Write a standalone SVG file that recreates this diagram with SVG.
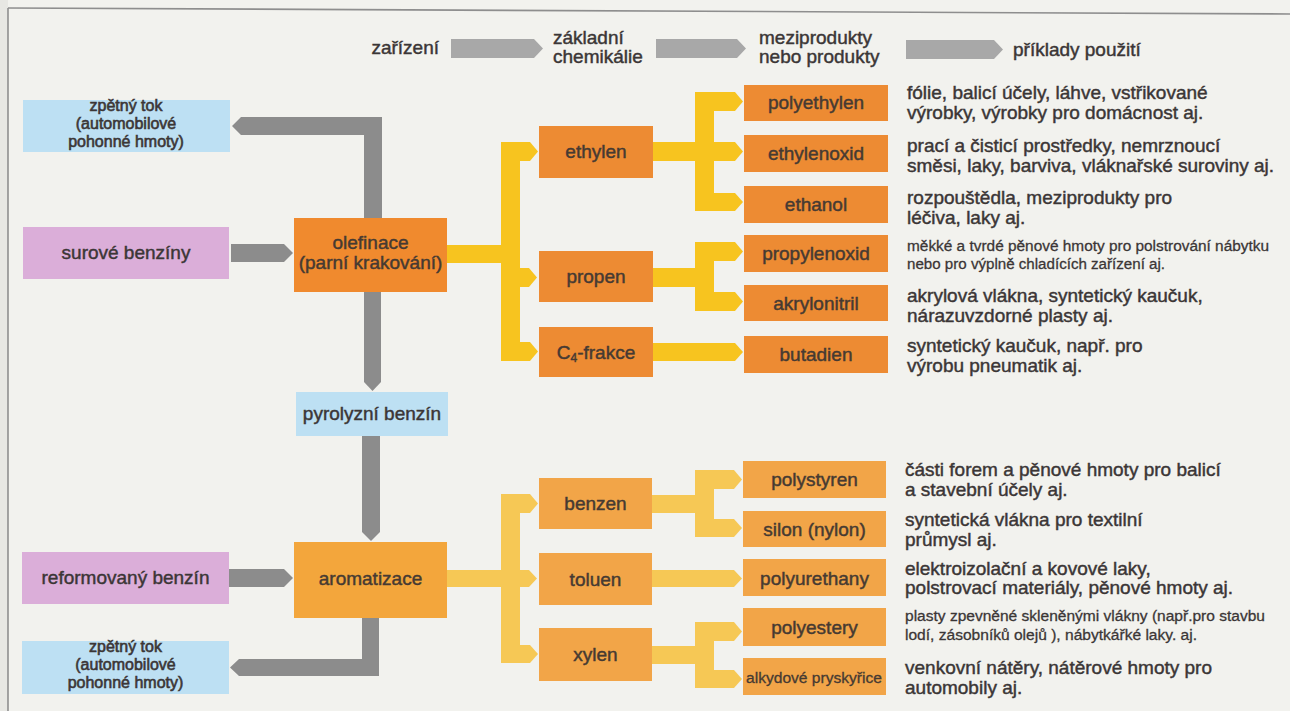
<svg xmlns="http://www.w3.org/2000/svg" width="1290" height="711" viewBox="0 0 1290 711">
<style>
.t{font-family:"Liberation Sans",Arial,Helvetica,sans-serif;font-size:19px;fill:#3b3636;stroke:#3b3636;stroke-width:0.45px}
.bt{fill:#463a32;stroke:#463a32}
.s16{font-size:16px;stroke-width:0.6px}
.sm{font-size:15.5px;stroke-width:0.3px}
.c{text-anchor:middle}
.e{text-anchor:end}
.blue{fill:#bde0f3}
.pink{fill:#dbaed9}
.or1{fill:#ed8b33}
.or2{fill:#f2a548}
.olef{fill:#f08a2e}
.arom{fill:#f3a63c}
.y1{fill:#f7c41f}
.y2{fill:#f6c855}
.g{fill:#8c8c8c}
.lg{fill:#a8a8a8}
</style>
<rect x="0" y="0" width="1290" height="711" fill="#f2f2ee"/>
<rect x="0" y="0" width="8" height="711" fill="#e7e7e3"/>
<g id="frame" fill="none" stroke="#8e8e8e" stroke-width="1.6">
<line x1="8" y1="8" x2="1290" y2="14"/>
<line x1="8" y1="8" x2="8" y2="711"/>
</g>

<g id="legend">
<text class="t e" x="439" y="54">zařízení</text>
<polygon class="lg" points="451,39 534,39 543,48.5 534,58 451,58"/>
<text class="t" x="553" y="44">základní</text>
<text class="t" x="553" y="63">chemikálie</text>
<polygon class="lg" points="656,39 737,39 746,48.5 737,58 656,58"/>
<text class="t" x="759" y="44">meziprodukty</text>
<text class="t" x="759" y="63">nebo produkty</text>
<polygon class="lg" points="906,40 994,40 1003,49.5 994,59 906,59"/>
<text class="t" x="1013" y="56">příklady použití</text>
</g>

<g id="connectors">
<polygon class="g" points="382,219 382,117 241,117 232,126 241,135 364,135 364,219"/>
<polygon class="g" points="231,244 284,244 293,253 284,262 231,262"/>
<polygon class="g" points="364,292 381,292 381,382 372.5,391 364,382"/>
<polygon class="g" points="362,436 380,436 380,532 371,541 362,532"/>
<polygon class="g" points="229,569 284,569 293,578 284,587 229,587"/>
<polygon class="g" points="362,618 379,618 379,676 239,676 230,667.5 239,659 362,659"/>
<g class="y1">
<rect x="447" y="245" width="60" height="18"/>
<rect x="501" y="142" width="19" height="219"/>
<polygon points="515,142 530,142 538,151.5 530,161 515,161"/>
<polygon points="515,268 529,268 537,277.5 529,287 515,287"/>
<polygon points="515,342 530,342 538,351.5 530,361 515,361"/>
<rect x="653" y="142" width="48" height="19"/>
<rect x="695" y="92" width="19" height="119"/>
<polygon points="710,92 735,92 743,101.5 735,111 710,111"/>
<polygon points="710,142 735,142 743,151.5 735,161 710,161"/>
<polygon points="710,193 735,193 743,202 735,211 710,211"/>
<rect x="653" y="268" width="48" height="19"/>
<rect x="695" y="242" width="19" height="69"/>
<polygon points="710,242 735,242 743,251.5 735,261 710,261"/>
<polygon points="710,292 735,292 743,301.5 735,311 710,311"/>
<polygon points="653,343 735,343 743,352 735,361 653,361"/>
</g>
<g class="y2">
<rect x="447" y="570" width="60" height="17"/>
<rect x="501" y="494" width="19" height="169"/>
<polygon points="515,494 530,494 538,503.5 530,513 515,513"/>
<polygon points="515,570 529,570 537,578.5 529,587 515,587"/>
<polygon points="515,645 530,645 538,654 530,663 515,663"/>
<rect x="652" y="495" width="48" height="18"/>
<rect x="695" y="470" width="19" height="67"/>
<polygon points="710,470 734,470 742,479.5 734,489 710,489"/>
<polygon points="710,519 734,519 742,528 734,537 710,537"/>
<polygon points="652,570 734,570 742,578.5 734,587 652,587"/>
<rect x="652" y="646" width="48" height="18"/>
<rect x="695" y="622" width="19" height="66"/>
<polygon points="710,622 734,622 742,631.5 734,641 710,641"/>
<polygon points="710,670 734,670 742,679 734,688 710,688"/>
</g>
</g>

<g id="zpetny-tok-1">
<rect class="blue" x="23" y="100" width="207" height="52"/>
<text class="t s16 c" x="126" y="111">zpětný tok</text>
<text class="t s16 c" x="126" y="129">(automobilové</text>
<text class="t s16 c" x="126" y="147">pohonné hmoty)</text>
</g>
<g id="surove-benziny">
<rect class="pink" x="23" y="227" width="206" height="52"/>
<text class="t c" x="126" y="259">surové benzíny</text>
</g>
<g id="olefinace">
<rect class="olef" x="294" y="218" width="153" height="74"/>
<text class="t bt c" x="370.5" y="249">olefinace</text>
<text class="t bt c" x="370.5" y="269">(parní krakování)</text>
</g>
<g id="pyrolyzni-benzin">
<rect class="blue" x="296" y="392" width="152" height="44"/>
<text class="t c" x="372" y="420">pyrolyzní benzín</text>
</g>
<g id="aromatizace">
<rect class="arom" x="294" y="542" width="153" height="76"/>
<text class="t bt c" x="370.5" y="585">aromatizace</text>
</g>
<g id="reformovany-benzin">
<rect class="pink" x="22" y="552" width="207" height="52"/>
<text class="t c" x="125.5" y="584">reformovaný benzín</text>
</g>
<g id="zpetny-tok-2">
<rect class="blue" x="22" y="641" width="207" height="53"/>
<text class="t s16 c" x="125.5" y="652">zpětný tok</text>
<text class="t s16 c" x="125.5" y="670">(automobilové</text>
<text class="t s16 c" x="125.5" y="688">pohonné hmoty)</text>
</g>

<g id="ethylen">
<rect class="or1" x="539" y="126" width="114" height="52"/>
<text class="t bt c" x="596" y="157.5">ethylen</text>
</g>
<g id="propen">
<rect class="or1" x="539" y="251" width="114" height="51"/>
<text class="t bt c" x="596" y="283">propen</text>
</g>
<g id="c4-frakce">
<rect class="or1" x="539" y="327" width="114" height="50"/>
<text class="t bt c" x="596" y="358.5">C<tspan font-size="12" dy="3">4</tspan><tspan dy="-3">-frakce</tspan></text>
</g>

<g id="polyethylen">
<rect class="or1" x="744" y="85" width="144" height="36"/>
<text class="t bt c" x="816" y="109">polyethylen</text>
<text class="t" x="907" y="99">fólie, balicí účely, láhve, vstřikované</text>
<text class="t" x="907" y="119">výrobky, výrobky pro domácnost aj.</text>
</g>
<g id="ethylenoxid">
<rect class="or1" x="744" y="135" width="144" height="37"/>
<text class="t bt c" x="816" y="160">ethylenoxid</text>
<text class="t" x="907" y="152">prací a čisticí prostředky, nemrznoucí</text>
<text class="t" x="907" y="172">směsi, laky, barviva, vláknařské suroviny aj.</text>
</g>
<g id="ethanol">
<rect class="or1" x="744" y="186" width="144" height="37"/>
<text class="t bt c" x="816" y="211">ethanol</text>
<text class="t" x="907" y="204">rozpouštědla, meziprodukty pro</text>
<text class="t" x="907" y="224">léčiva, laky aj.</text>
</g>
<g id="propylenoxid">
<rect class="or1" x="744" y="235" width="144" height="37"/>
<text class="t bt c" x="816" y="260">propylenoxid</text>
<text class="t sm" x="907" y="251" textLength="362" lengthAdjust="spacingAndGlyphs">měkké a tvrdé pěnové hmoty pro polstrování nábytku</text>
<text class="t sm" x="907" y="269" textLength="258" lengthAdjust="spacingAndGlyphs">nebo pro výplně chladících zařízení aj.</text>
</g>
<g id="akrylonitril">
<rect class="or1" x="744" y="285" width="144" height="36"/>
<text class="t bt c" x="816" y="310">akrylonitril</text>
<text class="t" x="907" y="302">akrylová vlákna, syntetický kaučuk,</text>
<text class="t" x="907" y="322">nárazuvzdorné plasty aj.</text>
</g>
<g id="butadien">
<rect class="or1" x="744" y="336" width="144" height="37"/>
<text class="t bt c" x="816" y="361">butadien</text>
<text class="t" x="907" y="352">syntetický kaučuk, např. pro</text>
<text class="t" x="907" y="372">výrobu pneumatik aj.</text>
</g>

<g id="benzen">
<rect class="or2" x="539" y="478" width="113" height="51"/>
<text class="t bt c" x="595.5" y="510">benzen</text>
</g>
<g id="toluen">
<rect class="or2" x="539" y="553" width="113" height="52"/>
<text class="t bt c" x="595.5" y="585.5">toluen</text>
</g>
<g id="xylen">
<rect class="or2" x="539" y="628" width="113" height="53"/>
<text class="t bt c" x="595.5" y="661">xylen</text>
</g>

<g id="polystyren">
<rect class="or2" x="743" y="461" width="143" height="37"/>
<text class="t bt c" x="814.5" y="486">polystyren</text>
<text class="t" x="905" y="476">části forem a pěnové hmoty pro balicí</text>
<text class="t" x="905" y="496">a stavební účely aj.</text>
</g>
<g id="silon">
<rect class="or2" x="743" y="511" width="143" height="36"/>
<text class="t bt c" x="814.5" y="535.5">silon (nylon)</text>
<text class="t" x="905" y="526">syntetická vlákna pro textilní</text>
<text class="t" x="905" y="546">průmysl aj.</text>
</g>
<g id="polyurethany">
<rect class="or2" x="743" y="559" width="143" height="37"/>
<text class="t bt c" x="814.5" y="584.5">polyurethany</text>
<text class="t" x="905" y="575">elektroizolační a kovové laky,</text>
<text class="t" x="905" y="594">polstrovací materiály, pěnové hmoty aj.</text>
</g>
<g id="polyestery">
<rect class="or2" x="743" y="608" width="143" height="38"/>
<text class="t bt c" x="814.5" y="634">polyestery</text>
<text class="t sm" x="905" y="621" textLength="360" lengthAdjust="spacingAndGlyphs">plasty zpevněné skleněnými vlákny (např.pro stavbu</text>
<text class="t sm" x="905" y="640" textLength="292" lengthAdjust="spacingAndGlyphs">lodí, zásobníků olejů ), nábytkářké laky. aj.</text>
</g>
<g id="alkydove-pryskyrice">
<rect class="or2" x="743" y="658" width="143" height="37"/>
<text class="t bt sm" x="746" y="683" textLength="136" lengthAdjust="spacingAndGlyphs">alkydové pryskyřice</text>
<text class="t" x="905" y="674">venkovní nátěry, nátěrové hmoty pro</text>
<text class="t" x="905" y="694">automobily aj.</text>
</g>
</svg>
